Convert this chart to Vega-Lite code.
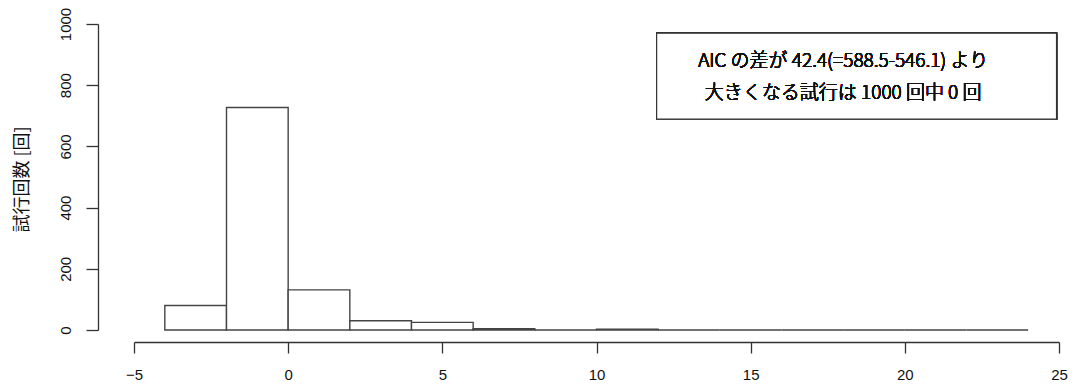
{
  "$schema": "https://vega.github.io/schema/vega-lite/v6.json",
  "width": 925,
  "height": 306,
  "autosize": {"type": "none"},
  "padding": {"left": 134, "top": 24, "right": 16, "bottom": 59},
  "background": "white",
  "config": {
    "view": {"stroke": null},
    "axis": {
      "grid": false,
      "domainColor": "#333",
      "tickColor": "#333",
      "domainWidth": 1.3,
      "tickWidth": 1.3,
      "labelFont": "Liberation Sans",
      "labelFontSize": 15,
      "labelFontWeight": "normal",
      "labelColor": "#111",
      "labelOverlap": false
    }
  },
  "data": {
    "values": [
      {"bin_start": -4, "bin_end": -2, "count": 80},
      {"bin_start": -2, "bin_end": 0, "count": 727},
      {"bin_start": 0, "bin_end": 2, "count": 131},
      {"bin_start": 2, "bin_end": 4, "count": 30},
      {"bin_start": 4, "bin_end": 6, "count": 25},
      {"bin_start": 6, "bin_end": 8, "count": 4},
      {"bin_start": 8, "bin_end": 10, "count": 0},
      {"bin_start": 10, "bin_end": 12, "count": 3},
      {"bin_start": 12, "bin_end": 14, "count": 0},
      {"bin_start": 14, "bin_end": 16, "count": 0},
      {"bin_start": 16, "bin_end": 18, "count": 0},
      {"bin_start": 18, "bin_end": 20, "count": 0},
      {"bin_start": 20, "bin_end": 22, "count": 0},
      {"bin_start": 22, "bin_end": 24, "count": 0}
    ]
  },
  "layer": [
    {
      "mark": {"type": "rect", "fill": "white", "stroke": "#444", "strokeWidth": 1.4},
      "encoding": {
        "x": {
          "field": "bin_start",
          "type": "quantitative",
          "scale": {"domain": [-5, 25], "nice": false, "zero": false},
          "axis": {
            "values": [-5, 0, 5, 10, 15, 20, 25],
            "format": "d",
            "offset": 12,
            "tickSize": 11,
            "labelFlush": false,
            "labelBaseline": "middle",
            "labelPadding": 21,
            "title": null
          }
        },
        "x2": {"field": "bin_end"},
        "y": {
          "field": "count",
          "type": "quantitative",
          "scale": {"domain": [0, 1000], "nice": false},
          "axis": {
            "values": [0, 200, 400, 600, 800, 1000],
            "format": "d",
            "offset": 36,
            "tickSize": 12,
            "labelAngle": 270,
            "labelAlign": "center",
            "labelBaseline": "middle",
            "labelPadding": 21,
            "title": "試行回数 [回]",
            "titleFont": "Noto Sans CJK JP",
            "titleFontSize": 18,
            "titleFontWeight": "normal",
            "titleColor": "#111",
            "titleAngle": 270,
            "titleAlign": "center",
            "titleBaseline": "middle",
            "titleX": -76,
            "titleY": 155
          }
        },
        "y2": {"datum": 0}
      }
    },
    {
      "mark": {"type": "rect", "fill": "white", "stroke": "#333", "strokeWidth": 1.2},
      "encoding": {
        "x": {"datum": 11.95},
        "x2": {"datum": 24.92},
        "y": {"datum": 970},
        "y2": {"datum": 689}
      }
    },
    {
      "mark": {
        "type": "text",
        "text": ["AIC の差が 42.4(=588.5-546.1) より", "大きくなる試行は 1000 回中 0 回"],
        "font": "Noto Sans CJK JP",
        "fontSize": 19,
        "fontWeight": 300,
        "lineHeight": 32,
        "align": "center",
        "baseline": "middle",
        "fill": "#111",
        "strokeWidth": 0
      },
      "encoding": {
        "x": {"datum": 18},
        "y": {"datum": 880}
      }
    }
  ]
}
